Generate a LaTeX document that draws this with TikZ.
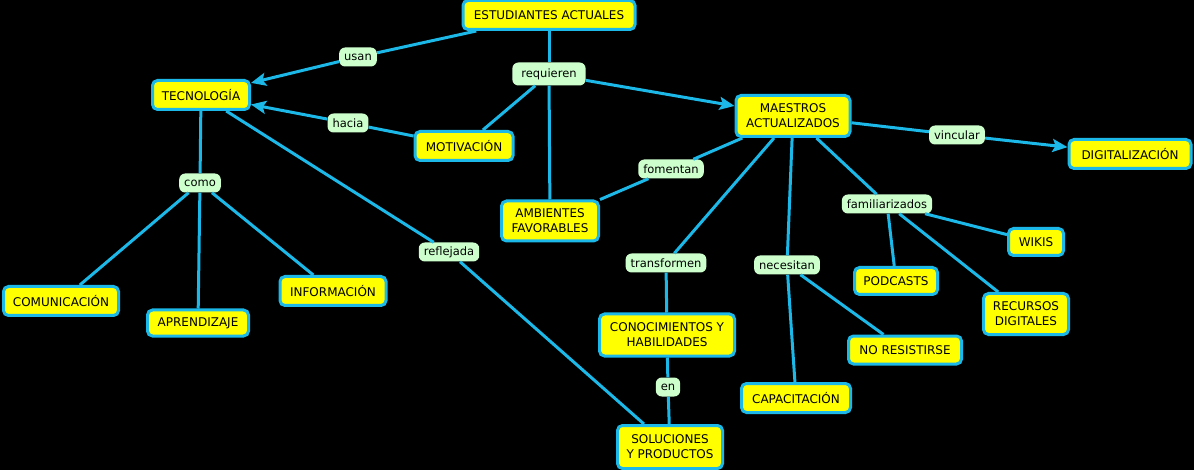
\documentclass[tikz,border=0pt]{standalone}
\usepackage{fontspec}
\setmainfont{DejaVu Sans}
\usetikzlibrary{arrows.meta, positioning}
\definecolor{cyellow}{HTML}{FFFF00}
\definecolor{ccyan}{HTML}{1BB8E8}
\definecolor{cmint}{HTML}{CCFFCC}
\tikzset{
  every picture/.style={x=1pt, y=-1pt},
  concept/.style={draw=ccyan, fill=cyellow, line width=3pt, rounded corners=5pt, align=center,
    font=\fontsize{12}{15}\selectfont, inner xsep=6pt, inner ysep=3pt, minimum height=29pt, text=black},
  tag/.style={fill=cmint, rounded corners=6pt, inner xsep=5pt, inner ysep=2pt, minimum height=19pt,
    font=\fontsize{11.5}{13}\selectfont, text=black},
  link/.style={draw=ccyan, line width=3pt},
  arrow/.style={link, -{Stealth[length=15pt, width=13pt, inset=3pt]}},
}

\begin{document}
\begin{tikzpicture}
  \fill[black] (0,0) rectangle (1194,470);
  \useasboundingbox (0,0) rectangle (1194,470);
  % concepts
  \node[concept, minimum width=172] (est) at (549,15) {ESTUDIANTES ACTUALES};
  \node[concept, minimum width=97] (tec) at (201,95) {TECNOLOGÍA};
  \node[concept, minimum width=98] (mot) at (464,146) {MOTIVACIÓN};
  \node[concept, minimum width=114, minimum height=41] (maes) at (793,116) {MAESTROS\\ACTUALIZADOS};
  \node[concept, minimum width=122] (dig) at (1130,154) {DIGITALIZACIÓN};
  \node[concept, minimum width=97, minimum height=40] (amb) at (550,221) {AMBIENTES\\FAVORABLES};
  \node[concept, minimum width=115] (com) at (61,301) {COMUNICACIÓN};
  \node[concept, minimum width=101, minimum height=26] (apr) at (198,323) {APRENDIZAJE};
  \node[concept, minimum width=106] (inf) at (333,291) {INFORMACIÓN};
  \node[concept, minimum width=135, minimum height=42] (con) at (667,335) {CONOCIMIENTOS Y\\HABILIDADES};
  \node[concept, minimum width=105, minimum height=43] (sol) at (670,447) {SOLUCIONES\\Y PRODUCTOS};
  \node[concept, minimum width=109] (cap) at (796,398) {CAPACITACIÓN};
  \node[concept, minimum width=113, minimum height=28] (nores) at (905,350) {NO RESISTIRSE};
  \node[concept, minimum width=83, minimum height=27] (pod) at (896,281) {PODCASTS};
  \node[concept, minimum width=55, minimum height=27] (wik) at (1036,242) {WIKIS};
  \node[concept, minimum width=85, minimum height=41] (rec) at (1026,314) {RECURSOS\\DIGITALES};
  % linking phrases
  \node[tag] (lusan) at (358,57) {usan};
  \node[tag, minimum height=23, inner xsep=9pt] (lreq) at (549,74) {requieren};
  \node[tag] (lhacia) at (348,123) {hacia};
  \node[tag] (lcomo) at (200,183) {como};
  \node[tag] (lrefl) at (449,252) {reflejada};
  \node[tag] (lfom) at (671,169) {fomentan};
  \node[tag] (lvinc) at (957,135) {vincular};
  \node[tag] (ltrans) at (666,263) {transformen};
  \node[tag] (lnec) at (787,265) {necesitan};
  \node[tag] (lfam) at (887,204) {familiarizados};
  \node[tag] (len) at (668,387) {en};
  % connectors
  \draw[link] (est) -- (lusan);
  \draw[arrow] (lusan) -- (tec);
  \draw[link] (est) -- (lreq);
  \draw[arrow] (lreq) -- (maes);
  \draw[link] (lreq) -- (mot);
  \draw[link] (lreq) -- (amb);
  \draw[link] (mot) -- (lhacia);
  \draw[arrow] (lhacia) -- (tec);
  \draw[link] (tec) -- (lcomo);
  \foreach \t in {com, apr, inf}
    \draw[link] (lcomo) -- (\t);
  \draw[link] (tec) -- (lrefl);
  \draw[link] (lrefl) -- (sol);
  \draw[link] (maes) -- (lvinc);
  \draw[arrow] (lvinc) -- (dig);
  \draw[link] (maes) -- (lfom);
  \draw[link] (lfom) -- (amb);
  \draw[link] (maes) -- (ltrans);
  \draw[link] (ltrans) -- (con);
  \draw[link] (con) -- (len);
  \draw[link] (len) -- (sol);
  \draw[link] (maes) -- (lnec);
  \foreach \t in {cap, nores}
    \draw[link] (lnec) -- (\t);
  \draw[link] (maes) -- (lfam);
  \foreach \t in {pod, wik, rec}
    \draw[link] (lfam) -- (\t);
\end{tikzpicture}
\end{document}
